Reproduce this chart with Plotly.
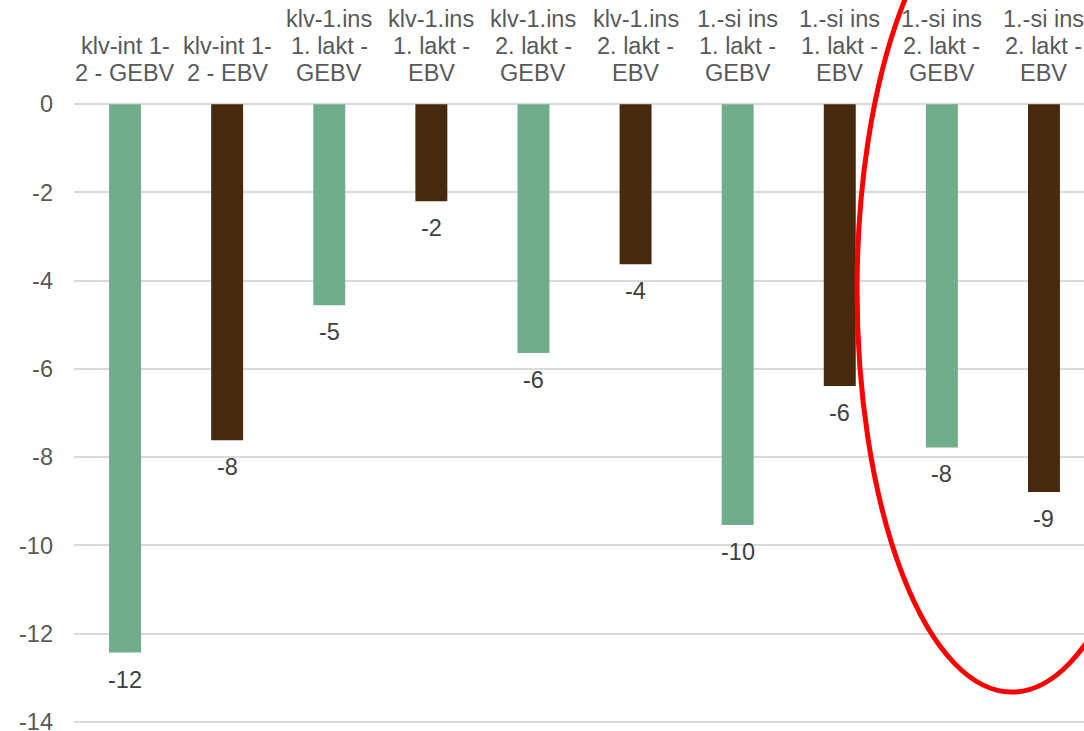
import plotly.graph_objects as go

# Trait / evaluation categories and mean differences
categories = [
    "klv-int 1-2 - GEBV", "klv-int 1-2 - EBV",
    "klv-1.ins 1. lakt - GEBV", "klv-1.ins 1. lakt - EBV",
    "klv-1.ins 2. lakt - GEBV", "klv-1.ins 2. lakt - EBV",
    "1.-si ins 1. lakt - GEBV", "1.-si ins 1. lakt - EBV",
    "1.-si ins 2. lakt - GEBV", "1.-si ins 2. lakt - EBV",
]
# Wrapped category labels (one entry per line)
tick_labels = [
    ["klv-int 1-", "2 - GEBV"], ["klv-int 1-", "2 - EBV"],
    ["klv-1.ins", "1. lakt -", "GEBV"], ["klv-1.ins", "1. lakt -", "EBV"],
    ["klv-1.ins", "2. lakt -", "GEBV"], ["klv-1.ins", "2. lakt -", "EBV"],
    ["1.-si ins", "1. lakt -", "GEBV"], ["1.-si ins", "1. lakt -", "EBV"],
    ["1.-si ins", "2. lakt -", "GEBV"], ["1.-si ins", "2. lakt -", "EBV"],
]
values = [-12.43, -7.62, -4.56, -2.2, -5.64, -3.63, -9.54, -6.39, -7.78, -8.79]
y_ticks = [0, -2, -4, -6, -8, -10, -12, -14]

GREEN = "#70AD8A"
BROWN = "#47290E"
bar_colors = [GREEN if c.endswith("GEBV") else BROWN for c in categories]

FONT = "Arial, Liberation Sans, sans-serif"
FONT_SIZE = 23.5
LINE_STEP = 27  # px between wrapped label lines

xs = list(range(len(categories)))

fig = go.Figure(
    go.Bar(
        x=xs,
        y=values,
        width=0.313,
        marker=dict(color=bar_colors, line=dict(width=0)),
        hovertext=categories,
    )
)

annotations = []
# value labels under each bar end
for x, v in zip(xs, values):
    annotations.append(dict(
        x=x, y=v, xref="x", yref="y",
        text=f"{v:.0f}",
        showarrow=False,
        xanchor="center", yanchor="top",
        yshift=-12,
        font=dict(family=FONT, size=FONT_SIZE, color="#404040"),
    ))
# category labels above the plot, bottom-aligned
for x, lines in zip(xs, tick_labels):
    n = len(lines)
    for i, line in enumerate(lines):
        annotations.append(dict(
            x=x, y=1, xref="x", yref="paper",
            text=line,
            showarrow=False,
            xanchor="center", yanchor="bottom",
            yshift=14 + LINE_STEP * (n - 1 - i),
            font=dict(family=FONT, size=FONT_SIZE, color="#595959"),
        ))

fig.update_layout(
    width=1084,
    height=731,
    margin=dict(l=74, r=0, t=102, b=7, autoexpand=False),
    paper_bgcolor="white",
    plot_bgcolor="white",
    showlegend=False,
    font=dict(family=FONT, size=FONT_SIZE, color="#595959"),
    xaxis=dict(
        range=[-0.5, 9.392],
        showticklabels=False,
        showgrid=False,
        zeroline=False,
        showline=False,
        ticks="",
        automargin=False,
    ),
    yaxis=dict(
        range=[-14.05, 0.05],
        tickmode="array",
        tickvals=y_ticks,
        ticktext=[str(v) for v in y_ticks],
        showgrid=True,
        gridcolor="#D9D9D9",
        gridwidth=1.5,
        zeroline=False,
        showline=False,
        ticks="",
        ticklabelstandoff=20,
        ticklabeloverflow="allow",
        automargin=False,
        tickfont=dict(family=FONT, size=FONT_SIZE, color="#595959"),
    ),
    annotations=annotations,
    shapes=[
        dict(
            type="circle",
            xref="paper",
            yref="paper",
            x0=0.7753,
            x1=1.0821,
            y0=0.0513,
            y1=1.3437,
            line=dict(color="#FF0000", width=5),
            layer="above",
        )
    ],
)

fig.write_html("out.html")
